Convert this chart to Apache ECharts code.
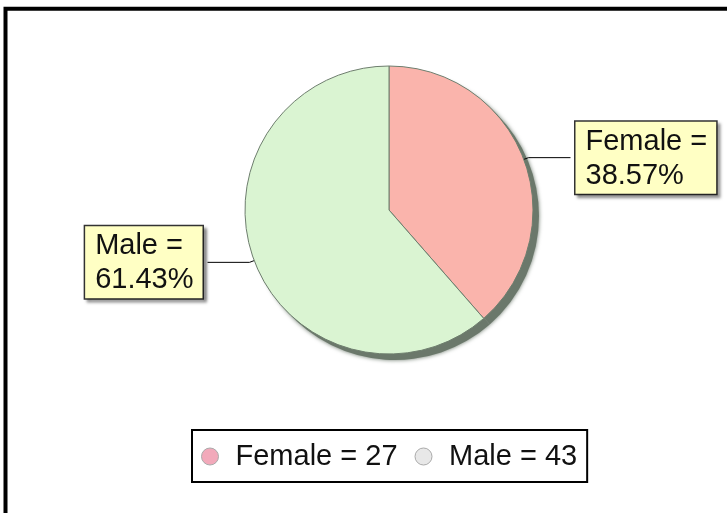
<!DOCTYPE html>
<html>
<head>
<meta charset="utf-8">
<title>Gender pie</title>
<script src="https://cdn.jsdelivr.net/npm/echarts@6/dist/echarts.min.js"></script>
<style>
  html, body { margin: 0; padding: 0; background: #fff; }
  #chart { width: 727px; height: 513px; }
</style>
</head>
<body>
<div id="chart"></div>
<script>
// данные диаграммы
const categories = ['Female', 'Male'];
const counts = [27, 43];
const sliceColors = ['#fab4ac', '#daf4d2'];
const legendColors = ['#f2a9ba', '#e8e8e8'];

const FONT = '"Liberation Sans", Arial, sans-serif';
const CX = 389, CY = 210, R = 144;
const chart = echarts.init(document.getElementById('chart'));

const pieData = categories.map((c, i) => ({
  name: c, value: counts[i], itemStyle: { color: sliceColors[i] },
}));

chart.setOption({
  animation: false,
  backgroundColor: '#fff',
  textStyle: { fontFamily: FONT },
  // рамка вокруг всей картинки (уходит за правый и нижний край)
  graphic: [{
    type: 'rect', silent: true, z: 100,
    shape: { x: 5.5, y: 8.7, width: 800, height: 600 },
    style: { fill: 'none', stroke: '#000', lineWidth: 4 },
  }],
  legend: {
    left: 192, top: 430,
    orient: 'horizontal',
    borderColor: '#000', borderWidth: 2,
    padding: [11, 10, 10, 9],
    itemWidth: 17, itemHeight: 17, itemGap: 17,
    icon: 'circle',
    selectedMode: false,
    textStyle: { fontSize: 29, lineHeight: 31, color: '#111', fontFamily: FONT, padding: [0, 0, 0, 12] },
    formatter: (name) => name + ' = ' + counts[categories.indexOf(name)],
    data: categories.map((c, i) => ({
      name: c,
      itemStyle: { color: legendColors[i], borderColor: '#aaa', borderWidth: 1 },
    })),
  },
  series: [
    // тень под пирогом
    {
      type: 'pie', silent: true, z: 1,
      center: [CX + 6, CY + 6], radius: R,
      label: { show: false }, labelLine: { show: false },
      itemStyle: { color: '#6b786b', shadowBlur: 4, shadowColor: '#6b786b' },
      data: categories.map((c, i) => ({ name: c + ' shadow', value: counts[i] })),
    },
    {
      type: 'pie', z: 2,
      center: [CX, CY], radius: R,
      startAngle: 90, clockwise: true,
      avoidLabelOverlap: false,
      itemStyle: { borderColor: '#6e7e6e', borderWidth: 1 },
      label: {
        show: true,
        position: 'outside',
        alignTo: 'none',
        // rich — чтобы обе строки в коробке были выровнены влево
        formatter: (p) => '{t|' + p.name + ' =}\n{t|' + p.percent.toFixed(2) + '%}',
        overflow: 'none',
        color: '#111', fontFamily: FONT,
        backgroundColor: '#ffffc4',
        borderColor: '#333', borderWidth: 1.5,
        padding: [3, 9, 1, 10],
        shadowColor: 'rgba(0,0,0,0.35)', shadowBlur: 3,
        shadowOffsetX: 3, shadowOffsetY: 3,
        rich: {
          t: { fontSize: 29, lineHeight: 34, color: '#111', fontFamily: FONT, align: 'left' },
        },
      },
      labelLine: {
        show: true, showAbove: true, length: 5, length2: 42,
        lineStyle: { color: '#000', width: 1 },
      },
      data: pieData,
    },
  ],
});
</script>
</body>
</html>
